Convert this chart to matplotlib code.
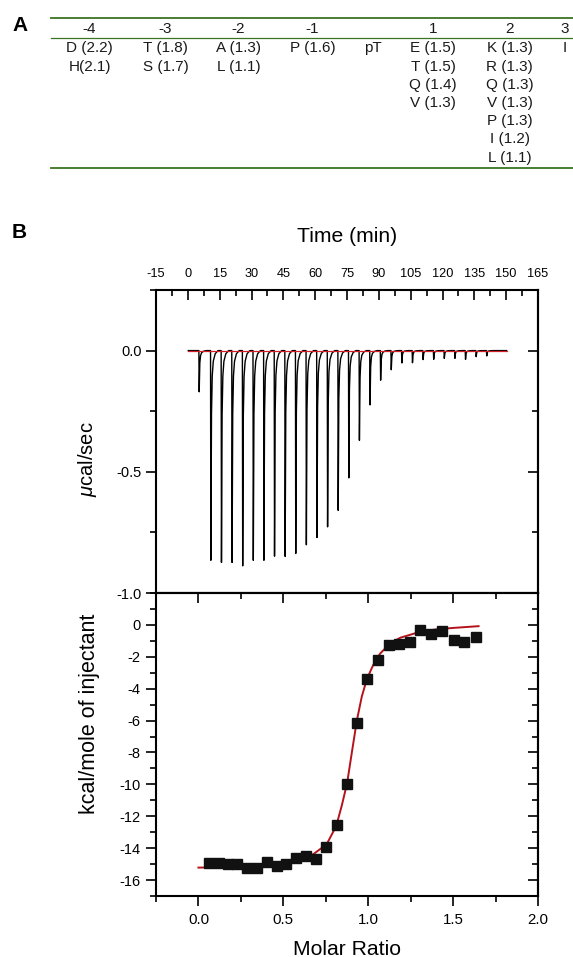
#!/usr/bin/env python3

import numpy as np
import matplotlib
matplotlib.use("Agg")
from matplotlib import pyplot as plt
from matplotlib.ticker import MultipleLocator, FormatStrFormatter

matplotlib.rcParams['font.family'] = ['Liberation Sans', 'DejaVu Sans']
matplotlib.rcParams['axes.unicode_minus'] = False
matplotlib.rcParams['mathtext.fontset'] = 'custom'
matplotlib.rcParams['mathtext.rm'] = 'Liberation Sans'
matplotlib.rcParams['mathtext.it'] = 'Liberation Sans:italic'

# ---- panel A: residue preferences table ----
positions = ['-4', '-3', '-2', '-1', '', '1', '2', '3']
residues = [
    ['D (2.2)', 'H(2.1)'],
    ['T (1.8)', 'S (1.7)'],
    ['A (1.3)', 'L (1.1)'],
    ['P (1.6)'],
    ['pT'],
    ['E (1.5)', 'T (1.5)', 'Q (1.4)', 'V (1.3)'],
    ['K (1.3)', 'R (1.3)', 'Q (1.3)', 'V (1.3)', 'P (1.3)', 'I (1.2)', 'L (1.1)'],
    ['I'],
]

# ---- panel B top: raw ITC thermogram ----
first_inj_time = 5.2
first_inj_depth = -0.17
inj_times = [10.7, 15.7, 20.7, 25.7, 30.7, 35.7, 40.7, 45.7, 50.7, 55.7,
             60.7, 65.7, 70.7, 75.7, 80.7, 85.7, 90.7, 95.7, 100.7, 105.7,
             110.7, 115.7, 120.7, 125.7, 130.7, 135.7, 140.7]
inj_depths = [-0.865, -0.874, -0.874, -0.888, -0.865, -0.865, -0.848, -0.849,
              -0.837, -0.801, -0.771, -0.727, -0.659, -0.525, -0.370, -0.224,
              -0.122, -0.079, -0.051, -0.050, -0.037, -0.036, -0.032, -0.032,
              -0.036, -0.025, -0.022]
run_start, run_end = 0.2, 150.2
# shape of one injection peak: minutes after injection, fraction of depth
peak_offsets = [0.0, 0.15, 0.45, 0.8, 1.3, 2.2, 3.5]
peak_fracs = [0.0, 1.0, 0.3, 0.12, 0.05, 0.015, 0.0]

# ---- panel B bottom: integrated heats and fit ----
molar_ratio = [0.061, 0.120, 0.173, 0.228, 0.287, 0.343, 0.404, 0.463, 0.514,
               0.577, 0.636, 0.693, 0.754, 0.817, 0.876, 0.933, 0.992, 1.059,
               1.120, 1.183, 1.246, 1.307, 1.370, 1.437, 1.504, 1.567, 1.632]
heat = [-14.94, -14.96, -14.98, -15.0, -15.25, -15.25, -14.85, -15.13, -15.0,
        -14.6, -14.5, -14.67, -13.91, -12.53, -9.98, -6.15, -3.41, -2.20,
        -1.26, -1.21, -1.07, -0.29, -0.56, -0.38, -0.94, -1.09, -0.73]
fit_x = [0.0, 0.2, 0.4, 0.5, 0.6, 0.675, 0.755, 0.795, 0.817, 0.845, 0.876,
         0.905, 0.933, 0.962, 0.992, 1.03, 1.07, 1.13, 1.19, 1.3, 1.4, 1.5, 1.65]
fit_y = [-15.22, -15.18, -15.07, -14.93, -14.68, -14.39, -13.76, -12.95, -12.4,
         -11.3, -9.9, -7.9, -6.0, -4.5, -3.4, -2.5, -1.8, -1.15, -0.8, -0.45,
         -0.28, -0.19, -0.08]

W, H = 573, 957
fig = plt.figure(figsize=(W / 100, H / 100), dpi=100)

# table drawn on a pixel-coordinate overlay
tab = fig.add_axes([0, 0, 1, 1])
tab.set_xlim(0, W)
tab.set_ylim(H, 0)
tab.axis('off')

green = '#3b7423'
col_x = [89.5, 165.5, 238.6, 312.4, 372.7, 433, 509.8, 564.6]
tab.plot([51, W], [17.7, 17.7], color=green, lw=1.3)
tab.plot([51, W], [38.3, 38.3], color=green, lw=0.9)
tab.plot([51, W], [167.7, 167.7], color=green, lw=1.3)
for cx, head, entries in zip(col_x, positions, residues):
    tab.text(cx, 29.3, head, ha='center', va='center', fontsize=11, color='#1a1a1a')
    for i, entry in enumerate(entries):
        tab.text(cx, 48.3 + i * 18.23, entry, ha='center', va='center',
                 fontsize=11, color='#1a1a1a')

tab.text(12, 31, 'A', fontsize=15, fontweight='bold', ha='left', va='baseline')
tab.text(12, 238, 'B', fontsize=15, fontweight='bold', ha='left', va='baseline')

left = 156 / W
width = 382 / W
axh = 303 / H
ax1 = fig.add_axes([left, 1 - 593 / H, width, axh])
ax2 = fig.add_axes([left, 1 - 896 / H, width, axh])

# thermogram trace
trace_t = [run_start, first_inj_time]
trace_v = [0.0, 0.0]
for t0, d in [(first_inj_time, first_inj_depth)] + list(zip(inj_times, inj_depths)):
    for off, frac in zip(peak_offsets, peak_fracs):
        trace_t.append(t0 + off)
        trace_v.append(d * frac)
trace_t.append(run_end)
trace_v.append(0.0)

ax1.plot(trace_t, trace_v, color='black', lw=1.0)
ax1.plot([run_start, run_end], [0, 0], color='#d0202a', lw=0.9)

ax1.set_xlim(-15, 165)
ax1.set_ylim(-1.0, 0.25)
ax1.xaxis.set_ticks_position('top')
ax1.xaxis.set_label_position('top')
ax1.xaxis.set_major_locator(MultipleLocator(15))
ax1.xaxis.set_minor_locator(MultipleLocator(7.5))
ax1.yaxis.set_major_locator(MultipleLocator(0.5))
ax1.yaxis.set_minor_locator(MultipleLocator(0.25))
ax1.yaxis.set_major_formatter(FormatStrFormatter('%.1f'))
ax1.tick_params(axis='x', which='both', direction='in', top=True, bottom=False,
                labelsize=9.2, pad=7)
ax1.tick_params(axis='y', which='both', direction='out', left=True, right=False,
                labelsize=10.5, pad=3)
ax1.set_xlabel('Time (min)', fontsize=15.2)
ax1.xaxis.set_label_coords(0.5, 1.16)
ax1.set_ylabel(r'$\mu$cal/sec', fontsize=14.5)
ax1.yaxis.set_label_coords(-0.150, 0.44)

# integrated heats
ax2.plot(fit_x, fit_y, color='#b5121b', lw=1.4, zorder=2)
ax2.plot(molar_ratio, heat, 's', color='#111111', ms=6.7, zorder=3)

ax2.set_xlim(-0.25, 2.0)
ax2.set_ylim(-17, 2)
ax2.xaxis.set_major_locator(MultipleLocator(0.5))
ax2.xaxis.set_minor_locator(MultipleLocator(0.25))
ax2.xaxis.set_major_formatter(FormatStrFormatter('%.1f'))
ax2.yaxis.set_major_locator(MultipleLocator(2))
ax2.yaxis.set_minor_locator(MultipleLocator(1))
ax2.set_yticks(np.arange(-16, 1, 2))
ax2.tick_params(axis='x', which='both', direction='out', bottom=True, top=False,
                labelsize=10.8, pad=5)
ax2.tick_params(axis='y', which='both', direction='out', left=True, right=False,
                labelsize=10.5, pad=4)
ax2.set_xlabel('Molar Ratio', fontsize=15.2)
ax2.xaxis.set_label_coords(0.5, -0.145)
ax2.set_ylabel('kcal/mole of injectant', fontsize=15.5)
ax2.yaxis.set_label_coords(-0.147, 0.6)

# inward ticks on the right of both panels and along the shared edge
for ax in (ax1, ax2):
    sec = ax.secondary_yaxis('right')
    sec.yaxis.set_major_locator(ax.yaxis.get_major_locator())
    sec.yaxis.set_minor_locator(ax.yaxis.get_minor_locator())
    sec.tick_params(which='both', direction='in', labelright=False)
    sec.tick_params(which='major', length=7, width=1.2)
    sec.tick_params(which='minor', length=4, width=1.2)
    sec.spines['right'].set_linewidth(1.5)
    ax.tick_params(which='major', length=7, width=1.2)
    ax.tick_params(which='minor', length=4, width=1.2)
    for s in ax.spines.values():
        s.set_linewidth(1.5)

top = ax2.secondary_xaxis('top')
top.xaxis.set_major_locator(MultipleLocator(0.5))
top.xaxis.set_minor_locator(MultipleLocator(0.25))
top.tick_params(which='both', direction='in', labeltop=False, width=1.2)
top.tick_params(which='major', length=7)
top.tick_params(which='minor', length=4)
top.spines['top'].set_linewidth(1.5)

plt.savefig('out.png', dpi=100)
